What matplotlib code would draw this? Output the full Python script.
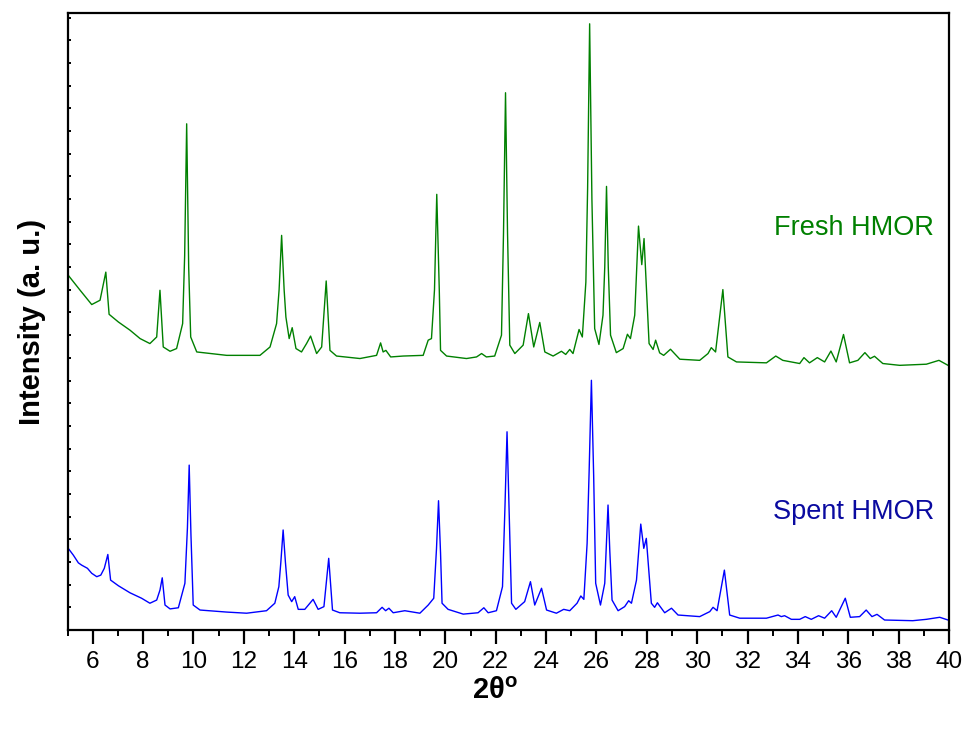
import matplotlib
matplotlib.use('Agg')
import matplotlib.pyplot as plt
from matplotlib.ticker import MultipleLocator

plt.rcParams['font.family'] = ['Liberation Sans', 'DejaVu Sans']
plt.rcParams['mathtext.fontset'] = 'custom'
plt.rcParams['mathtext.rm'] = 'Liberation Sans'
plt.rcParams['mathtext.bf'] = 'Liberation Sans:bold'

# ---------------- data (2theta, intensity in kcounts) ----------------
fresh_2theta = [5.00, 5.50, 5.96, 6.29, 6.52, 6.65, 7.02, 7.48, 7.88, 8.27, 8.54, 8.67, 8.80, 9.07,
                9.33, 9.57, 9.65, 9.73, 9.81, 9.89, 10.13, 11.32, 12.64, 13.04, 13.30, 13.40, 13.50,
                13.60, 13.67, 13.80, 13.92, 14.07, 14.29, 14.49, 14.65, 14.89, 15.09, 15.27, 15.42,
                15.68, 16.61, 17.27, 17.43, 17.53, 17.64, 17.83, 18.33, 19.12, 19.32, 19.45, 19.57,
                19.66, 19.76, 19.81, 20.05, 20.84, 21.24, 21.44, 21.63, 21.96, 22.23, 22.31, 22.39,
                22.47, 22.56, 22.76, 23.09, 23.30, 23.51, 23.75, 23.95, 24.28, 24.61, 24.78, 24.94,
                25.07, 25.31, 25.44, 25.58, 25.65, 25.73, 25.82, 25.93, 26.10, 26.26, 26.33, 26.40,
                26.47, 26.56, 26.79, 27.06, 27.23, 27.35, 27.52, 27.67, 27.80, 27.89, 28.09, 28.25,
                28.35, 28.51, 28.67, 28.94, 29.31, 30.10, 30.43, 30.56, 30.73, 31.02, 31.22, 31.56,
                32.75, 33.12, 33.40, 34.07, 34.24, 34.46, 34.77, 35.06, 35.31, 35.52, 35.81, 36.05,
                36.38, 36.66, 36.87, 37.04, 37.37, 38.04, 39.10, 39.60, 39.96]
fresh_int = [15.68, 14.98, 14.35, 14.54, 15.78, 13.92, 13.58, 13.22, 12.85, 12.63, 12.92, 14.98, 12.48, 12.29,
             12.41, 13.51, 16.50, 22.32, 16.00, 12.92, 12.26, 12.11, 12.11, 12.48, 13.51, 15.00, 17.40,
             15.00, 13.80, 12.85, 13.33, 12.41, 12.26, 12.63, 12.96, 12.19, 12.48, 15.39, 12.33,
             12.08, 11.97, 12.11, 12.66, 12.26, 12.33, 12.04, 12.08, 12.11, 12.78, 12.85, 15.00,
             19.21, 15.00, 12.33, 12.08, 11.97, 12.04, 12.19, 12.04, 12.08, 13.00, 17.50, 23.69,
             17.50, 12.56, 12.19, 12.56, 13.95, 12.48, 13.56, 12.26, 12.08, 12.29, 12.15, 12.37,
             12.19, 13.25, 12.92, 15.34, 19.50, 26.73, 19.00, 13.29, 12.59, 13.88, 16.00, 19.56,
             16.00, 13.00, 12.23, 12.41, 13.04, 12.85, 13.88, 17.81, 16.11, 17.26, 12.63, 12.37,
             12.78, 12.22, 12.11, 12.38, 11.94, 11.89, 12.19, 12.45, 12.26, 15.01, 12.04, 11.82,
             11.78, 12.08, 11.89, 11.75, 12.01, 11.78, 12.01, 11.82, 12.30, 11.82, 13.03, 11.78,
             11.89, 12.23, 11.97, 12.07, 11.75, 11.67, 11.72, 11.89, 11.67]

spent_2theta = [5.00, 5.23, 5.43, 5.56, 5.79, 5.96, 6.16, 6.32, 6.46, 6.60, 6.71, 7.02, 7.48, 7.94, 8.27,
                8.54, 8.67, 8.76, 8.87, 9.07, 9.40, 9.66, 9.76, 9.83, 9.90, 9.99, 10.26, 11.32, 12.11,
                12.90, 13.23, 13.39, 13.47, 13.56, 13.65, 13.76, 13.90, 14.02, 14.16, 14.42, 14.75,
                14.95, 15.18, 15.37, 15.52, 15.81, 16.61, 17.27, 17.49, 17.63, 17.76, 17.93, 18.39,
                18.99, 19.32, 19.54, 19.65, 19.73, 19.81, 19.87, 20.11, 20.71, 21.30, 21.53, 21.70,
                22.03, 22.27, 22.37, 22.45, 22.53, 22.63, 22.80, 23.15, 23.38, 23.55, 23.82, 24.02,
                24.41, 24.70, 24.94, 25.23, 25.38, 25.50, 25.63, 25.71, 25.80, 25.89, 25.97, 26.16,
                26.33, 26.39, 26.46, 26.53, 26.62, 26.86, 27.12, 27.28, 27.39, 27.59, 27.76, 27.88,
                27.98, 28.18, 28.31, 28.42, 28.71, 28.98, 29.24, 30.10, 30.50, 30.63, 30.79, 31.08,
                31.29, 31.69, 32.75, 33.21, 33.34, 33.47, 33.74, 34.07, 34.29, 34.53, 34.82, 35.06,
                35.34, 35.52, 35.88, 36.08, 36.45, 36.71, 36.94, 37.14, 37.44, 38.56, 39.10, 39.63, 39.96]
spent_int = [3.64, 3.30, 2.96, 2.86, 2.72, 2.50, 2.35, 2.42, 2.72, 3.33, 2.20, 1.95, 1.64, 1.40, 1.18,
             1.32, 1.76, 2.30, 1.10, 0.93, 0.98, 2.06, 4.50, 7.27, 4.20, 1.10, 0.88, 0.79, 0.74,
             0.85, 1.18, 1.91, 3.00, 4.41, 3.00, 1.54, 1.25, 1.47, 0.91, 0.91, 1.35,
             0.91, 1.03, 3.16, 0.88, 0.76, 0.74, 0.76, 1.00, 0.85, 0.96, 0.76, 0.85,
             0.74, 1.10, 1.40, 3.60, 5.70, 3.40, 1.18, 0.91, 0.70, 0.76, 0.98, 0.76,
             0.85, 1.91, 5.50, 8.74, 5.30, 1.18, 0.91, 1.25, 2.13, 1.10, 1.84, 0.88,
             0.74, 0.91, 0.85, 1.18, 1.50, 1.35, 3.82, 7.00, 11.01, 6.80, 2.06, 1.10,
             2.06, 3.60, 5.51, 3.50, 1.32, 0.85, 1.03, 1.29, 1.18, 2.20, 4.67, 3.60,
             4.04, 1.18, 1.00, 1.20, 0.76, 0.96, 0.66, 0.59, 0.81, 1.00, 0.85, 2.64,
             0.66, 0.52, 0.52, 0.66, 0.59, 0.63, 0.47, 0.47, 0.59, 0.47, 0.63, 0.52,
             0.85, 0.56, 1.40, 0.56, 0.59, 0.88, 0.59, 0.69, 0.44, 0.41, 0.47, 0.56, 0.44]

labels = ['Fresh HMOR', 'Spent HMOR']
line_colors = ['#008000', '#0000FF']
text_colors = ['#008000', '#0A0AA0']

# ---------------- plot ----------------
fig = plt.figure(figsize=(9.69, 7.30), dpi=100)
ax = fig.add_axes([0.0697, 0.137, 0.9097, 0.845])

ax.plot(fresh_2theta, fresh_int, color=line_colors[0], linewidth=1.0)
ax.plot(spent_2theta, spent_int, color=line_colors[1], linewidth=1.0)

ax.text(0.983, 0.652, labels[0], transform=ax.transAxes, color=text_colors[0],
        fontsize=19.5, ha='right', va='center')
ax.text(0.983, 0.192, labels[1], transform=ax.transAxes, color=text_colors[1],
        fontsize=19.5, ha='right', va='center')

ax.set_xlim(5, 40)
ax.set_ylim(0, 27.2)
ax.xaxis.set_major_locator(MultipleLocator(2))
ax.xaxis.set_minor_locator(MultipleLocator(1))
ax.yaxis.set_major_locator(MultipleLocator(1))
ax.set_yticklabels([])

ax.tick_params(axis='x', which='major', direction='out', length=10, width=1.6,
               labelsize=17.5, pad=5)
ax.tick_params(axis='x', which='minor', direction='out', length=4.5, width=1.4)
ax.tick_params(axis='y', which='major', direction='in', length=2.5, width=1.4, left=True)
for s in ax.spines.values():
    s.set_linewidth(1.6)

ax.set_xlabel('2θ$^{\\mathbf{o}}$', fontsize=21, fontweight='bold')
ax.xaxis.set_label_coords(0.485, -0.076)
ax.set_ylabel('Intensity (a. u.)', fontsize=21, fontweight='bold', labelpad=12)

plt.savefig('out.png', dpi=100)
plt.close()
